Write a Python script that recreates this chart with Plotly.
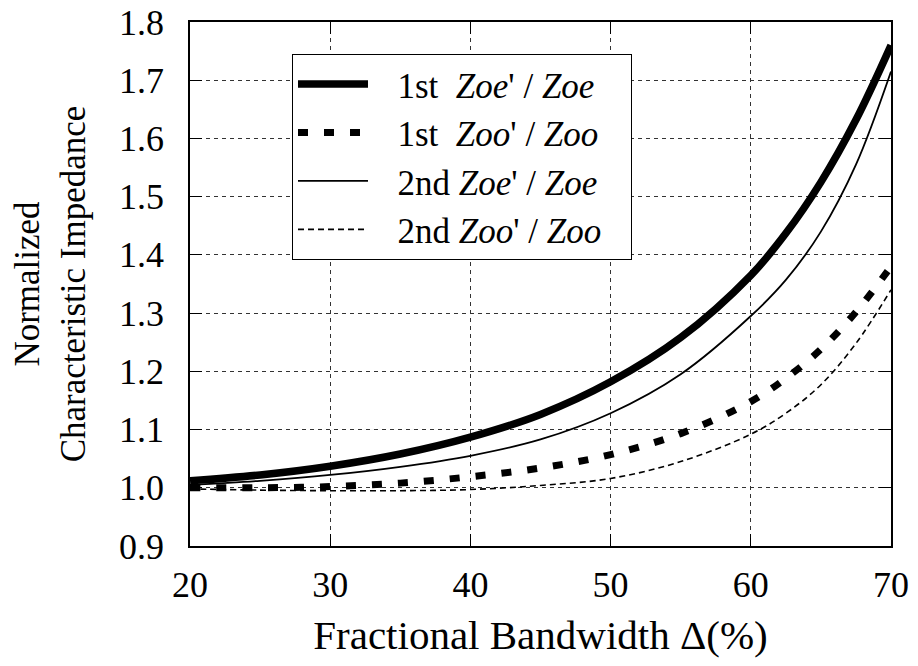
import plotly.graph_objects as go

bandwidth = [20, 25, 30, 35, 40, 45, 50, 55, 60, 62.5, 65, 67.5, 70]
first_zoe = [1.012, 1.022, 1.037, 1.058, 1.087, 1.126, 1.182, 1.258, 1.365, 1.437, 1.525, 1.632, 1.76]
first_zoo = [1.000, 1.000, 1.002, 1.008, 1.019, 1.034, 1.057, 1.093, 1.148, 1.188, 1.238, 1.302, 1.38]
second_zoe = [1.005, 1.012, 1.022, 1.036, 1.055, 1.083, 1.128, 1.195, 1.295, 1.357, 1.440, 1.555, 1.715]
second_zoo = [0.998, 0.996, 0.995, 0.995, 0.997, 1.004, 1.016, 1.045, 1.092, 1.128, 1.177, 1.248, 1.34]

LEAD = "\u2002\u2009"
TRAIL = "\u2002\u2009"
names = [
    LEAD + "1st\u2002<i>Zoe</i>' / <i>Zoe</i>" + TRAIL,
    LEAD + "1st\u2002<i>Zoo</i>' / <i>Zoo</i>" + TRAIL,
    LEAD + "2nd <i>Zoe</i>' / <i>Zoe</i>" + TRAIL,
    LEAD + "2nd <i>Zoo</i>' / <i>Zoo</i>" + TRAIL,
]

FONT = "Liberation Serif"

fig = go.Figure()
fig.add_trace(go.Scatter(x=bandwidth, y=first_zoe, mode="lines", name=names[0],
                         line=dict(color="black", width=7.5, shape="spline")))
fig.add_trace(go.Scatter(x=bandwidth, y=first_zoo, mode="lines", name=names[1],
                         line=dict(color="black", width=7, dash="10px,16px", shape="spline")))
fig.add_trace(go.Scatter(x=bandwidth, y=second_zoe, mode="lines", name=names[2],
                         line=dict(color="black", width=1.8, shape="spline")))
fig.add_trace(go.Scatter(x=bandwidth, y=second_zoo, mode="lines", name=names[3],
                         line=dict(color="black", width=1.6, dash="6px,4px", shape="spline")))

axis_common = dict(
    showline=True, linecolor="black", linewidth=1.5, mirror="ticks",
    ticks="inside", ticklen=12, tickwidth=1, tickcolor="black",
    showgrid=True, gridcolor="#333333", gridwidth=1, griddash="4px,4px",
    zeroline=False, tickfont=dict(family=FONT, size=36, color="black"),
    ticklabeloverflow="allow",
)

fig.update_layout(
    width=918, height=666,
    margin=dict(l=182, r=35, t=14, b=128, autoexpand=False),
    paper_bgcolor="white", plot_bgcolor="white",
    font=dict(family=FONT, color="black"),
    xaxis=dict(range=[20, 70], tickvals=[20, 30, 40, 50, 60, 70],
               title=dict(text="Fractional Bandwidth Δ(%)", font=dict(family=FONT, size=41), standoff=16),
               ticklabelstandoff=6, **axis_common),
    yaxis=dict(range=[0.9, 1.8], tickvals=[0.9, 1.0, 1.1, 1.2, 1.3, 1.4, 1.5, 1.6, 1.7, 1.8],
               tickformat=".1f",
               title=dict(text="Normalized<br>Characteristic Impedance", font=dict(family=FONT, size=35), standoff=37),
               ticklabelstandoff=17, **axis_common),
    legend=dict(x=0.1455, y=0.743, xanchor="left", yanchor="middle",
                bgcolor="white", bordercolor="black", borderwidth=1,
                font=dict(family=FONT, size=35, color="black"),
                itemwidth=70, tracegroupgap=0),
    showlegend=True,
)

fig.write_html("out.html")
